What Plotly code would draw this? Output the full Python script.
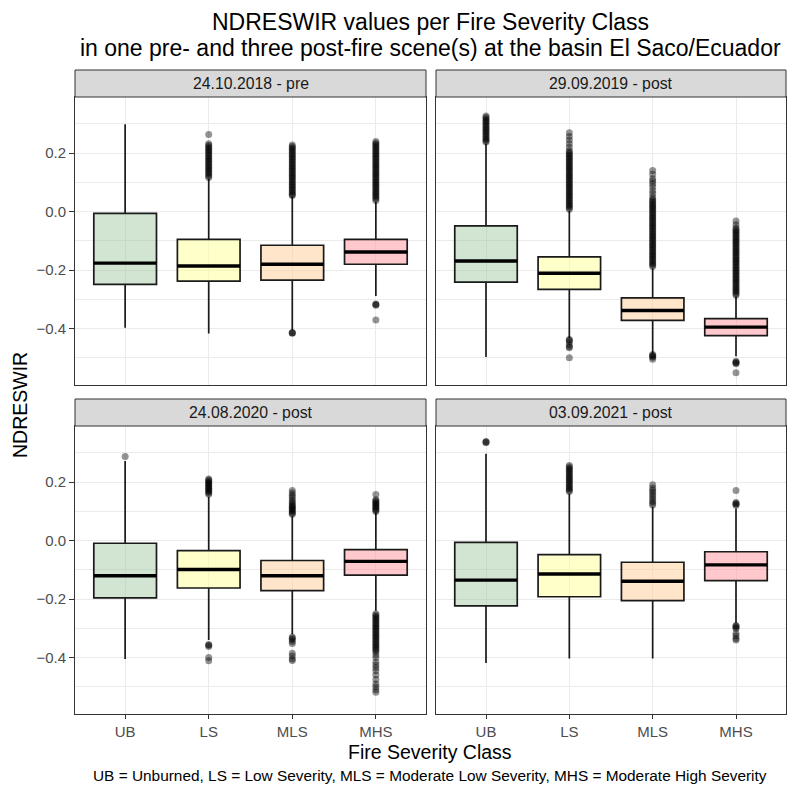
import plotly.graph_objects as go

# ---------------- data ----------------
classes = ["UB", "LS", "MLS", "MHS"]
scenes = ["24.10.2018 - pre", "29.09.2019 - post", "24.08.2020 - post", "03.09.2021 - post"]

# box statistics per scene (order: UB, LS, MLS, MHS)
q1_2018 = [-0.249, -0.238, -0.234, -0.180]
med_2018 = [-0.176, -0.186, -0.180, -0.138]
q3_2018 = [-0.006, -0.095, -0.115, -0.095]
lo_2018 = [-0.397, -0.417, -0.405, -0.289]
hi_2018 = [0.299, 0.112, 0.052, 0.033]

q1_2019 = [-0.241, -0.266, -0.372, -0.424]
med_2019 = [-0.169, -0.211, -0.338, -0.395]
q3_2019 = [-0.049, -0.155, -0.295, -0.366]
lo_2019 = [-0.497, -0.432, -0.485, -0.495]
hi_2019 = [0.232, 0.002, -0.194, -0.290]

q1_2020 = [-0.196, -0.162, -0.171, -0.118]
med_2020 = [-0.120, -0.099, -0.120, -0.071]
q3_2020 = [-0.009, -0.034, -0.068, -0.031]
lo_2020 = [-0.405, -0.340, -0.320, -0.240]
hi_2020 = [0.272, 0.150, 0.083, 0.097]

q1_2021 = [-0.223, -0.192, -0.205, -0.137]
med_2021 = [-0.135, -0.114, -0.139, -0.083]
q3_2021 = [-0.006, -0.048, -0.074, -0.038]
lo_2021 = [-0.419, -0.403, -0.403, -0.283]
hi_2021 = [0.297, 0.160, 0.115, 0.110]

# outliers per scene (UB, LS, MLS, MHS)
out_2018 = [
    [],
    [0.264, 0.232, 0.227, 0.222, 0.217, 0.212, 0.207, 0.202, 0.197, 0.192, 0.187, 0.182, 0.177,
     0.172, 0.167, 0.162, 0.157, 0.152, 0.147, 0.142, 0.137, 0.132, 0.127, 0.122, 0.117],
    [0.228, 0.223, 0.218, 0.213, 0.208, 0.203, 0.198, 0.193, 0.188, 0.183, 0.178, 0.173, 0.168,
     0.163, 0.158, 0.153, 0.148, 0.143, 0.138, 0.133, 0.128, 0.123, 0.118, 0.113, 0.108, 0.103,
     0.098, 0.093, 0.088, 0.083, 0.078, 0.073, 0.068, 0.063, 0.058, 0.055,
     -0.414, -0.414, -0.416],
    [0.240, 0.234, 0.229, 0.224, 0.219, 0.214, 0.209, 0.204, 0.199, 0.194, 0.189, 0.184, 0.179,
     0.174, 0.169, 0.164, 0.159, 0.154, 0.149, 0.144, 0.139, 0.134, 0.129, 0.124, 0.119, 0.114,
     0.109, 0.104, 0.099, 0.094, 0.089, 0.084, 0.079, 0.074, 0.069, 0.064, 0.059, 0.054, 0.049,
     0.044, 0.038, -0.316, -0.318, -0.320, -0.371],
]
out_2019 = [
    [0.327, 0.322, 0.317, 0.312, 0.307, 0.302, 0.297, 0.292, 0.287, 0.282, 0.277, 0.272, 0.267,
     0.262, 0.257, 0.252, 0.247, 0.242, 0.238],
    [0.270, 0.257, 0.245, 0.232, 0.220, 0.208, 0.203, 0.198, 0.193, 0.188, 0.183, 0.178, 0.173,
     0.168, 0.163, 0.158, 0.153, 0.148, 0.143, 0.138, 0.133, 0.128, 0.123, 0.118, 0.113, 0.108,
     0.103, 0.098, 0.093, 0.088, 0.083, 0.078, 0.073, 0.068, 0.063, 0.058, 0.053, 0.048, 0.043,
     0.038, 0.033, 0.028, 0.023, 0.018, 0.013, 0.008,
     -0.437, -0.440, -0.445, -0.455, -0.462, -0.466, -0.500],
    [0.141, 0.128, 0.112, 0.105, 0.095, 0.085, 0.072, 0.062, 0.050, 0.042, 0.037, 0.032, 0.027,
     0.022, 0.017, 0.012, 0.007, 0.002, -0.003, -0.008, -0.013, -0.018, -0.023, -0.028, -0.033,
     -0.038, -0.043, -0.048, -0.053, -0.058, -0.063, -0.068, -0.073, -0.078, -0.083, -0.088,
     -0.093, -0.098, -0.103, -0.108, -0.113, -0.118, -0.123, -0.128, -0.133, -0.138, -0.143,
     -0.148, -0.153, -0.158, -0.163, -0.168, -0.173, -0.178, -0.183, -0.188,
     -0.489, -0.492, -0.495, -0.498, -0.505],
    [-0.032, -0.045, -0.055, -0.061, -0.066, -0.071, -0.076, -0.081, -0.086, -0.091, -0.096,
     -0.101, -0.106, -0.111, -0.116, -0.121, -0.126, -0.131, -0.136, -0.141, -0.146, -0.151,
     -0.156, -0.161, -0.166, -0.171, -0.176, -0.181, -0.186, -0.191, -0.196, -0.201, -0.206,
     -0.211, -0.216, -0.221, -0.226, -0.231, -0.236, -0.241, -0.246, -0.251, -0.256, -0.261,
     -0.266, -0.271, -0.276, -0.281, -0.286,
     -0.512, -0.515, -0.518, -0.520, -0.551],
]
out_2020 = [
    [0.288],
    [0.211, 0.207, 0.203, 0.199, 0.195, 0.191, 0.187, 0.183, 0.179, 0.175, 0.171, 0.167, 0.163,
     0.159, -0.355, -0.358, -0.362, -0.400, -0.411],
    [0.171, 0.163, 0.155, 0.148, 0.140, 0.134, 0.128, 0.122, 0.118, 0.114, 0.110, 0.106, 0.102,
     0.098, 0.094, 0.090, -0.330, -0.334, -0.338, -0.345, -0.352, -0.385, -0.395, -0.405, -0.410],
    [0.158, 0.140, 0.136, 0.132, 0.128, 0.124, 0.120, 0.116, 0.112, 0.108, 0.104, 0.100,
     -0.250, -0.255, -0.260, -0.265, -0.270, -0.275, -0.280, -0.285, -0.290, -0.295, -0.300,
     -0.305, -0.310, -0.315, -0.320, -0.325, -0.330, -0.335, -0.340, -0.345, -0.350, -0.355,
     -0.360, -0.365, -0.370, -0.375, -0.380,
     -0.390, -0.400, -0.415, -0.425, -0.435, -0.445, -0.460, -0.475, -0.490, -0.500, -0.510, -0.519],
]
out_2021 = [
    [0.339, 0.337, 0.335],
    [0.257, 0.252, 0.247, 0.242, 0.237, 0.232, 0.227, 0.222, 0.217, 0.212, 0.207, 0.202, 0.197,
     0.192, 0.187, 0.182, 0.177, 0.172, 0.168],
    [0.191, 0.180, 0.172, 0.165, 0.158, 0.150, 0.142, 0.135, 0.128, 0.122],
    [0.171, 0.130, 0.127, 0.124, 0.121,
     -0.290, -0.293, -0.297, -0.301, -0.318, -0.325, -0.335, -0.340],
]

q1_all = [q1_2018, q1_2019, q1_2020, q1_2021]
med_all = [med_2018, med_2019, med_2020, med_2021]
q3_all = [q3_2018, q3_2019, q3_2020, q3_2021]
lo_all = [lo_2018, lo_2019, lo_2020, lo_2021]
hi_all = [hi_2018, hi_2019, hi_2020, hi_2021]
out_all = [out_2018, out_2019, out_2020, out_2021]

y_ticks = [-0.4, -0.2, 0.0, 0.2]
y_ticktext = ["\u22120.4", "\u22120.2", "0.0", "0.2"]

# ---------------- styling ----------------
W = H = 787
FONT = "Liberation Sans, Arial, Helvetica, sans-serif"
fills = ["rgba(143,188,143,0.40)", "rgba(255,255,150,0.50)",
         "rgba(255,204,150,0.50)", "rgba(255,145,155,0.50)"]
BOX_W = 0.75
GRID = "#EBEBEB"
BORDER = "#333333"


def px(x):
    return x / W


def py(y):
    return 1 - y / H


# panel pixel rectangles: (left, right, top, bottom), strip top
panels = [
    (75, 426, 97, 385, 70),
    (436, 786, 97, 385, 70),
    (75, 426, 426, 714, 399),
    (436, 786, 426, 714, 399),
]
Y_RANGE = [-0.593, 0.392]

fig = go.Figure()
layout_axes = {}
shapes = []
annotations = []

for k, scene in enumerate(scenes):
    xa = "x" if k == 0 else f"x{k + 1}"
    ya = "y" if k == 0 else f"y{k + 1}"
    L, R, T, B, ST = panels[k]
    for i, cls in enumerate(classes):
        pos = i + 1
        outs = out_all[k][i]
        if outs:
            fig.add_trace(go.Scatter(
                x=[pos] * len(outs), y=outs, mode="markers",
                marker=dict(size=7, color="rgba(0,0,0,0.42)", line=dict(width=0)),
                xaxis=xa, yaxis=ya, showlegend=False, hoverinfo="skip"))
        fig.add_trace(go.Box(
            x=[pos], q1=[q1_all[k][i]], median=[med_all[k][i]], q3=[q3_all[k][i]],
            lowerfence=[lo_all[k][i]], upperfence=[hi_all[k][i]],
            width=BOX_W, whiskerwidth=0, boxpoints=False,
            fillcolor=fills[i], line=dict(color="#1a1a1a", width=1.7),
            xaxis=xa, yaxis=ya, showlegend=False, hoverinfo="skip"))
        fig.add_trace(go.Scatter(
            x=[pos - BOX_W / 2, pos + BOX_W / 2], y=[med_all[k][i], med_all[k][i]],
            mode="lines", line=dict(color="#000000", width=3.4),
            xaxis=xa, yaxis=ya, showlegend=False, hoverinfo="skip"))

    bottom = k >= 2
    left = k in (0, 2)
    xkey = "xaxis" if k == 0 else f"xaxis{k + 1}"
    ykey = "yaxis" if k == 0 else f"yaxis{k + 1}"
    layout_axes[xkey] = dict(
        domain=[px(L), px(R)], range=[0.4, 4.6], anchor=ya,
        tickvals=[1, 2, 3, 4], ticktext=classes, showticklabels=bottom,
        ticks="outside" if bottom else "", ticklen=4, tickwidth=1, tickcolor=BORDER,
        tickfont=dict(family=FONT, size=15, color="#4D4D4D"),
        showgrid=True, gridcolor=GRID, gridwidth=1,
        showline=True, mirror=True, linecolor=BORDER, linewidth=1, zeroline=False,
    )
    layout_axes[ykey] = dict(
        domain=[py(B), py(T)], range=Y_RANGE, anchor=xa,
        tickvals=y_ticks, ticktext=y_ticktext, showticklabels=left,
        ticks="outside" if left else "", ticklen=5, tickwidth=1, tickcolor=BORDER,
        tickfont=dict(family=FONT, size=15, color="#4D4D4D"),
        showgrid=True, gridcolor=GRID, gridwidth=1,
        minor=dict(dtick=0.1, tick0=0, showgrid=True, gridcolor=GRID, gridwidth=0.6),
        showline=True, mirror=True, linecolor=BORDER, linewidth=1, zeroline=False,
    )
    # facet strip
    shapes.append(dict(type="rect", xref="paper", yref="paper",
                       x0=px(L), x1=px(R), y0=py(T), y1=py(ST),
                       fillcolor="#D9D9D9", line=dict(color=BORDER, width=1), layer="above"))
    annotations.append(dict(text=scene, xref="paper", yref="paper",
                            x=px((L + R) / 2), y=py((T + ST) / 2),
                            xanchor="center", yanchor="middle", showarrow=False,
                            font=dict(family=FONT, size=15.8, color="#1A1A1A")))

annotations += [
    dict(text="NDRESWIR values per Fire Severity Class", xref="paper", yref="paper",
         x=px(430), y=py(22), xanchor="center", yanchor="middle", showarrow=False,
         font=dict(family=FONT, size=23, color="#000000")),
    dict(text="in one pre- and three post-fire scene(s) at the basin El Saco/Ecuador",
         xref="paper", yref="paper", x=px(430), y=py(48), xanchor="center", yanchor="middle",
         showarrow=False, font=dict(family=FONT, size=23, color="#000000")),
    dict(text="Fire Severity Class", xref="paper", yref="paper", x=px(430), y=py(752),
         xanchor="center", yanchor="middle", showarrow=False,
         font=dict(family=FONT, size=19.5, color="#000000")),
    dict(text="NDRESWIR", xref="paper", yref="paper", x=px(20), y=py(405), textangle=-90,
         xanchor="center", yanchor="middle", showarrow=False,
         font=dict(family=FONT, size=19.5, color="#000000")),
    dict(text="UB = Unburned, LS = Low Severity, MLS = Moderate Low Severity, MHS = Moderate High Severity",
         xref="paper", yref="paper", x=px(430), y=py(775), xanchor="center", yanchor="middle",
         showarrow=False, font=dict(family=FONT, size=15.4, color="#000000")),
]

fig.update_layout(
    width=W, height=H, margin=dict(l=0, r=0, t=0, b=0),
    paper_bgcolor="white", plot_bgcolor="white",
    shapes=shapes, annotations=annotations, showlegend=False,
    boxmode="overlay", **layout_axes,
)

fig.write_html(
    "out.html",
    config={"displayModeBar": False},
    post_script="document.body.style.margin='0px';document.body.style.padding='0px';"
                "document.body.style.overflow='hidden';",
)
